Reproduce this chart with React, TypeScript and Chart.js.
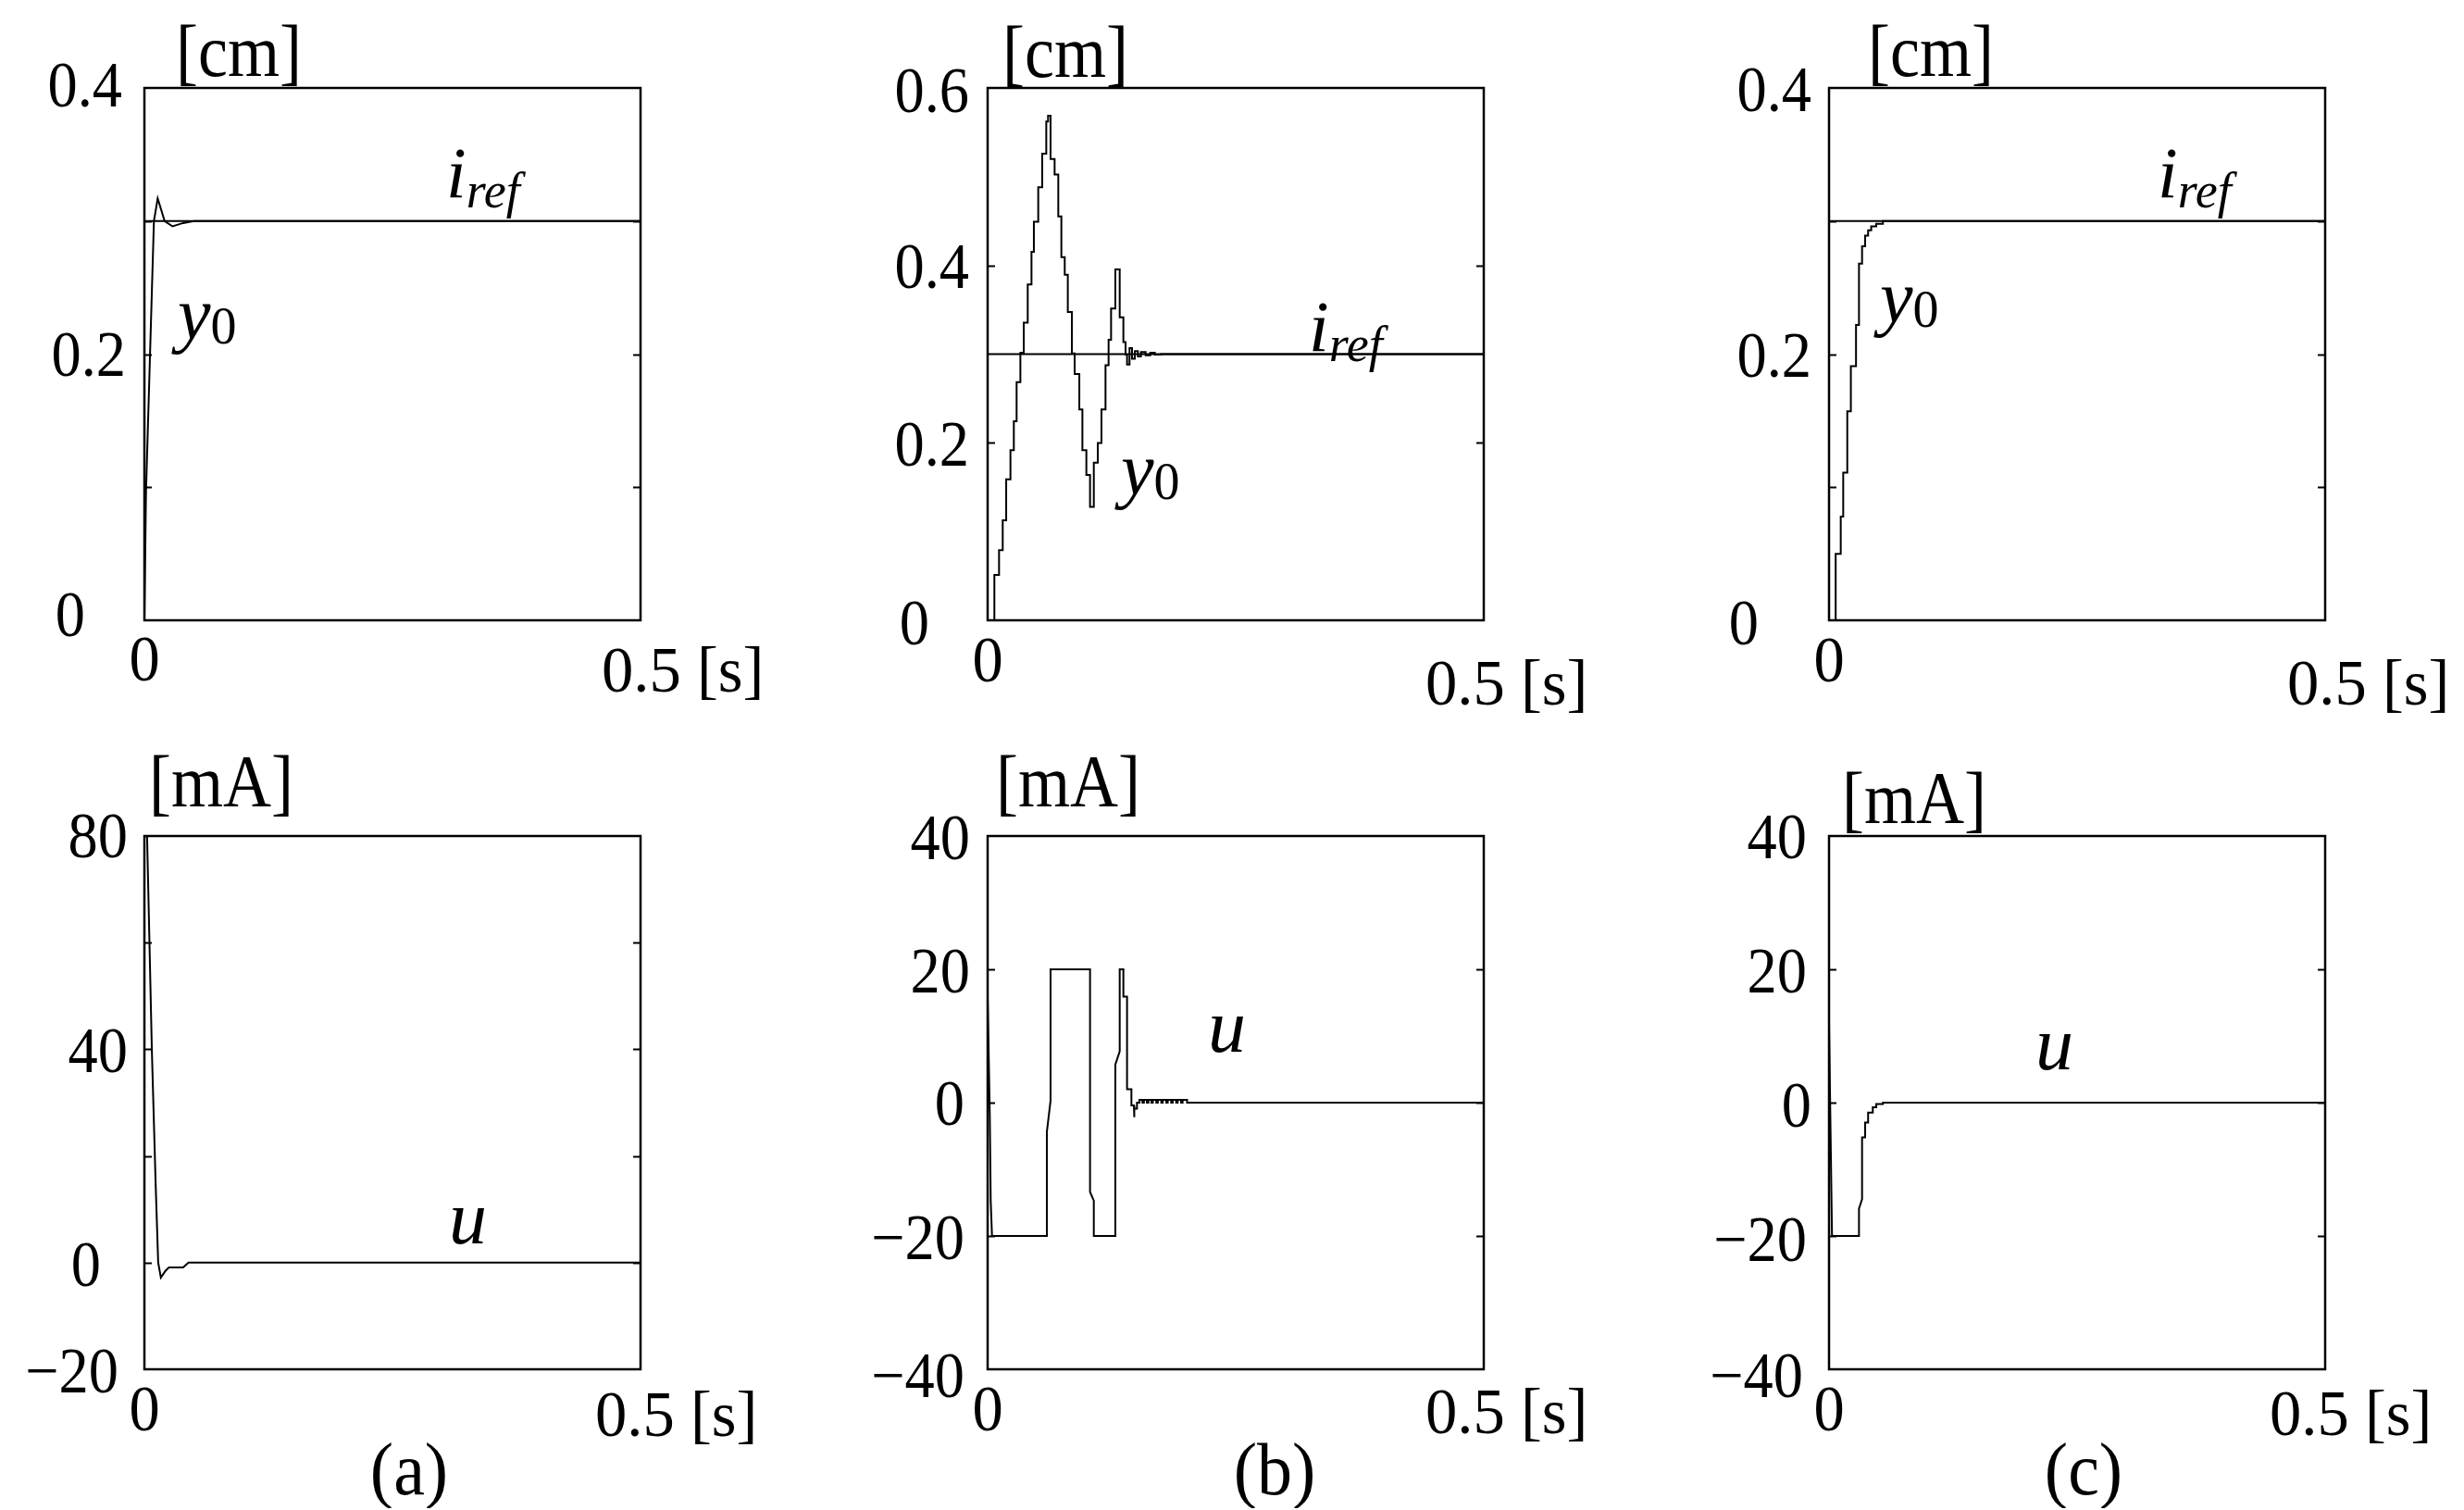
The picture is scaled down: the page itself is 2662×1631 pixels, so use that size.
import React, { useEffect, useRef } from 'react';
import { Chart, registerables } from 'chart.js';

Chart.register(...registerables);

// ---------------- data ----------------
const TIME_MIN = 0;
const TIME_MAX = 0.5;
const X_TICK_VALUES = [0, 0.5];
const X_TICK_LABELS = ['0', '0.5 [s]'];

// reference position i_ref [cm]
const IREF_T = [0, 0.5];
const IREF_CM = [0.3, 0.3];

// (a) position y0 [cm]
const A_Y0_T = [0, 0.0016, 0.0096, 0.0134, 0.0204, 0.0284, 0.039, 0.05, 0.5];
const A_Y0_CM = [0, 0.096, 0.3, 0.317, 0.3, 0.296, 0.2985, 0.3, 0.3];

// (a) control current u [mA]
const A_U_T = [0, 0.0027, 0.0075, 0.0113, 0.0139, 0.0166, 0.0214, 0.0247, 0.039, 0.0445, 0.5];
const A_U_MA = [80, 80, 40, 15, 0, -2.8, -1.5, -0.9, -0.9, 0, 0];

// (b) position y0 [cm] (sample-and-hold)
const B_Y0_T = [0, 0.0068, 0.0115, 0.0152, 0.0187, 0.023, 0.0264, 0.0292, 0.033, 0.0364, 0.0404, 0.0442, 0.0466, 0.051, 0.055, 0.0591, 0.0609, 0.0634, 0.0675, 0.0712, 0.0743, 0.0777, 0.0808, 0.0849, 0.0877, 0.0924, 0.0955, 0.0995, 0.1032, 0.107, 0.111, 0.1147, 0.1188, 0.1219, 0.1244, 0.1287, 0.1331, 0.1368, 0.139, 0.1405, 0.143, 0.1455, 0.1483, 0.1514, 0.1545, 0.1592, 0.1639, 0.1685, 0.1748, 0.5];
const B_Y0_CM = [0, 0.0511, 0.0791, 0.1126, 0.1589, 0.1917, 0.2244, 0.2684, 0.3015, 0.3355, 0.3786, 0.4153, 0.4493, 0.488, 0.526, 0.5623, 0.5687, 0.52, 0.5024, 0.4553, 0.4093, 0.3894, 0.3474, 0.3007, 0.2776, 0.2376, 0.1917, 0.1637, 0.1278, 0.1777, 0.1997, 0.2376, 0.2875, 0.3163, 0.3514, 0.3954, 0.3415, 0.3135, 0.2995, 0.2883, 0.3067, 0.2947, 0.3035, 0.2975, 0.3023, 0.2987, 0.3015, 0.2995, 0.3, 0.3];

// (b) control current u [mA]
const B_U_T = [0, 0.0022, 0.0031, 0.0044, 0.0597, 0.0597, 0.0634, 0.0634, 0.1032, 0.1032, 0.107, 0.107, 0.1287, 0.1287, 0.1331, 0.1331, 0.1368, 0.1368, 0.1405, 0.1405, 0.1449, 0.1449, 0.1474, 0.1474, 0.148, 0.148, 0.1505, 0.1505, 0.153, 0.153, 0.156, 0.156, 0.1575, 0.1575, 0.1605, 0.1605, 0.162, 0.162, 0.165, 0.165, 0.1665, 0.1665, 0.17, 0.17, 0.1715, 0.1715, 0.175, 0.175, 0.1765, 0.1765, 0.18, 0.18, 0.1815, 0.1815, 0.185, 0.185, 0.1865, 0.1865, 0.19, 0.19, 0.1915, 0.1915, 0.195, 0.195, 0.1965, 0.1965, 0.201, 0.201, 0.5];
const B_U_MA = [16, -2.2, -14.7, -20, -20, -4.4, 0.3, 20, 20, -13.4, -14.7, -20, -20, 5.7, 7.7, 20, 20, 15.9, 15.9, 2, 2, -0.4, -0.4, -2.2, -2.2, -0.9, -0.9, 0, 0, 0.4, 0.4, 0, 0, 0.4, 0.4, 0, 0, 0.4, 0.4, 0, 0, 0.4, 0.4, 0, 0, 0.4, 0.4, 0, 0, 0.4, 0.4, 0, 0, 0.4, 0.4, 0, 0, 0.4, 0.4, 0, 0, 0.4, 0.4, 0, 0, 0.4, 0.4, 0, 0];

// (c) position y0 [cm] (sample-and-hold)
const C_Y0_T = [0, 0.0067, 0.0118, 0.0143, 0.0184, 0.022, 0.0272, 0.0302, 0.0333, 0.0364, 0.0394, 0.0425, 0.0476, 0.0543, 0.5];
const C_Y0_CM = [0, 0.05, 0.078, 0.111, 0.157, 0.191, 0.222, 0.268, 0.281, 0.289, 0.293, 0.296, 0.298, 0.3, 0.3];

// (c) control current u [mA]
const C_U_T = [0, 0.003, 0.0302, 0.0302, 0.0333, 0.0333, 0.0364, 0.0364, 0.0394, 0.0394, 0.0441, 0.0441, 0.0476, 0.0476, 0.0543, 0.0543, 0.5];
const C_U_MA = [12, -20, -20, -15.9, -14.5, -5.2, -5.2, -3, -3, -1.5, -1.5, -0.7, -0.7, -0.2, -0.2, 0, 0];

// axis tick labels
const CM_04_TICKS = [0, 0.2, 0.4];
const CM_04_LABELS = ['0', '0.2', '0.4'];
const CM_04_MARKS = [0.1, 0.2, 0.3];
const CM_06_TICKS = [0, 0.2, 0.4, 0.6];
const CM_06_LABELS = ['0', '0.2', '0.4', '0.6'];
const CM_06_MARKS = [0.2, 0.4];
const MA_80_TICKS = [-20, 0, 40, 80];
const MA_80_LABELS = ['\u221220', '0', '40', '80'];
const MA_80_MARKS = [0, 20, 40, 60];
const MA_40_TICKS = [-40, -20, 0, 20, 40];
const MA_40_LABELS = ['\u221240', '\u221220', '0', '20', '40'];
const MA_40_MARKS = [-20, 0, 20];

// ---------------- layout / style ----------------
const SERIF = '"Liberation Serif", "Times New Roman", "DejaVu Serif", serif';
const PAD_L = 156;
const PAD_R = 190;
const PAD_T = 95;
const PAD_B = 150;
const BOX_W = 536;

type Series = { t: number[]; v: number[]; stepped: boolean };
type Annot =
  | { kind: 'iref'; dx: number; base: number }
  | { kind: 'y0'; dx: number; base: number }
  | { kind: 'u'; dx: number; base: number };

type Panel = {
  key: string;
  left: number;
  top: number;
  boxH: number;
  yMin: number;
  yMax: number;
  ticks: number[];
  labels: string[];
  gaps: number[];
  dys: number[];
  marks: number[];
  series: Series[];
  unit: string;
  unitDx: number;
  unitBase: number;
  x0Base: number;
  xEndDx: number;
  xEndBase: number;
  annots: Annot[];
  letter?: string;
  letterDx?: number;
  letterBase?: number;
};

const PANELS: Panel[] = [
  {
    key: 'aTop', left: 0, top: 0, boxH: 575, yMin: 0, yMax: 0.4,
    ticks: CM_04_TICKS, labels: CM_04_LABELS, gaps: [64, 20, 24], dys: [-1, 5, 2], marks: CM_04_MARKS,
    series: [{ t: IREF_T, v: IREF_CM, stepped: false }, { t: A_Y0_T, v: A_Y0_CM, stepped: false }],
    unit: '[cm]', unitDx: 34, unitBase: -13, x0Base: 65, xEndDx: -42, xEndBase: 77,
    annots: [{ kind: 'iref', dx: 326, base: 118 }, { kind: 'y0', dx: 36, base: 271 }],
  },
  {
    key: 'bTop', left: 1067 - PAD_L, top: 0, boxH: 575, yMin: 0, yMax: 0.6,
    ticks: CM_06_TICKS, labels: CM_06_LABELS, gaps: [63, 20, 20, 20], dys: [8, 6, 6, 8], marks: CM_06_MARKS,
    series: [{ t: IREF_T, v: IREF_CM, stepped: false }, { t: B_Y0_T, v: B_Y0_CM, stepped: true }],
    unit: '[cm]', unitDx: 16, unitBase: -12, x0Base: 66, xEndDx: -63, xEndBase: 91,
    annots: [{ kind: 'iref', dx: 347, base: 284 }, { kind: 'y0', dx: 144, base: 439 }],
  },
  {
    key: 'cTop', left: 1976 - PAD_L, top: 0, boxH: 575, yMin: 0, yMax: 0.4,
    ticks: CM_04_TICKS, labels: CM_04_LABELS, gaps: [76, 19, 19], dys: [8, 6, 7], marks: CM_04_MARKS,
    series: [{ t: IREF_T, v: IREF_CM, stepped: false }, { t: C_Y0_T, v: C_Y0_CM, stepped: true }],
    unit: '[cm]', unitDx: 42, unitBase: -13, x0Base: 66, xEndDx: -41, xEndBase: 91,
    annots: [{ kind: 'iref', dx: 355, base: 118 }, { kind: 'y0', dx: 55, base: 253 }],
  },
  {
    key: 'aBot', left: 0, top: 903 - PAD_T, boxH: 576, yMin: -20, yMax: 80,
    ticks: MA_80_TICKS, labels: MA_80_LABELS, gaps: [28, 47, 18, 18], dys: [7, 7, 6, 5], marks: MA_80_MARKS,
    series: [{ t: A_U_T, v: A_U_MA, stepped: false }],
    unit: '[mA]', unitDx: 5, unitBase: -32, x0Base: 66, xEndDx: -49, xEndBase: 72,
    annots: [{ kind: 'u', dx: 329, base: 440 }],
    letter: '(a)', letterDx: 286, letterBase: 135,
  },
  {
    key: 'bBot', left: 1067 - PAD_L, top: 903 - PAD_T, boxH: 576, yMin: -40, yMax: 40,
    ticks: MA_40_TICKS, labels: MA_40_LABELS, gaps: [25, 25, 25, 19, 19], dys: [12, 7, 6, 7, 7], marks: MA_40_MARKS,
    series: [{ t: B_U_T, v: B_U_MA, stepped: false }],
    unit: '[mA]', unitDx: 9, unitBase: -32, x0Base: 66, xEndDx: -63, xEndBase: 69,
    annots: [{ kind: 'u', dx: 238, base: 233 }],
    letter: '(b)', letterDx: 310, letterBase: 135,
  },
  {
    key: 'cBot', left: 1976 - PAD_L, top: 903 - PAD_T, boxH: 576, yMin: -40, yMax: 40,
    ticks: MA_40_TICKS, labels: MA_40_LABELS, gaps: [28, 24, 19, 24, 24], dys: [12, 9, 8, 7, 6], marks: MA_40_MARKS,
    series: [{ t: C_U_T, v: C_U_MA, stepped: false }],
    unit: '[mA]', unitDx: 14, unitBase: -14, x0Base: 66, xEndDx: -60, xEndBase: 71,
    annots: [{ kind: 'u', dx: 223, base: 252 }],
    letter: '(c)', letterDx: 275, letterBase: 135,
  },
];

// draw text with an optional horizontal squeeze
function drawText(
  ctx: CanvasRenderingContext2D,
  text: string,
  x: number,
  y: number,
  font: string,
  align: CanvasTextAlign,
  baseline: CanvasTextBaseline,
  sx = 1,
) {
  ctx.save();
  ctx.font = font;
  ctx.textAlign = align;
  ctx.textBaseline = baseline;
  ctx.translate(x, y);
  ctx.scale(sx, 1);
  ctx.fillText(text, 0, 0);
  const w = ctx.measureText(text).width * sx;
  ctx.restore();
  return w;
}

function makeFramePlugin(p: Panel) {
  return {
    id: 'frame_' + p.key,
    afterDatasetsDraw(chart: any) {
      const ctx: CanvasRenderingContext2D = chart.ctx;
      const { left, top, right, bottom } = chart.chartArea;
      const xs = chart.scales.x;
      const ys = chart.scales.y;
      ctx.save();
      ctx.strokeStyle = '#000';
      ctx.fillStyle = '#000';
      // box
      ctx.lineWidth = 2.5;
      ctx.strokeRect(left, top, right - left, bottom - top);
      // inward tick marks on both sides
      ctx.lineWidth = 2;
      ctx.beginPath();
      for (const m of p.marks) {
        const py = Math.round(ys.getPixelForValue(m)) + 0.5;
        ctx.moveTo(left, py);
        ctx.lineTo(left + 8, py);
        ctx.moveTo(right - 8, py);
        ctx.lineTo(right, py);
      }
      ctx.stroke();
      // y tick labels
      p.ticks.forEach((v, i) => {
        drawText(ctx, p.labels[i], left - p.gaps[i], ys.getPixelForValue(v) + p.dys[i], `70px ${SERIF}`, 'right', 'middle', 0.92);
      });
      // x tick labels
      drawText(ctx, X_TICK_LABELS[0], xs.getPixelForValue(X_TICK_VALUES[0]), bottom + p.x0Base, `70px ${SERIF}`, 'center', 'alphabetic', 0.95);
      drawText(ctx, X_TICK_LABELS[1], xs.getPixelForValue(X_TICK_VALUES[1]) + p.xEndDx, bottom + p.xEndBase, `70px ${SERIF}`, 'left', 'alphabetic', 0.98);
      // unit label
      drawText(ctx, p.unit, left + p.unitDx, top + p.unitBase, `80px ${SERIF}`, 'left', 'alphabetic', 0.9);
      // annotations
      for (const a of p.annots) {
        const ax = left + a.dx;
        const ab = top + a.base;
        if (a.kind === 'iref') {
          const w = drawText(ctx, 'i', ax, ab, `italic 78px ${SERIF}`, 'left', 'alphabetic');
          drawText(ctx, 'ref', ax + w, ab + 11, `italic 54px ${SERIF}`, 'left', 'alphabetic');
        } else if (a.kind === 'y0') {
          const w = drawText(ctx, 'y', ax, ab, `italic 80px ${SERIF}`, 'left', 'alphabetic');
          drawText(ctx, '0', ax + w, ab + 5, `56px ${SERIF}`, 'left', 'alphabetic');
        } else {
          drawText(ctx, 'u', ax, ab, `italic 82px ${SERIF}`, 'left', 'alphabetic');
        }
      }
      // panel letter
      if (p.letter) {
        drawText(ctx, p.letter, left + (p.letterDx || 0), bottom + (p.letterBase || 0), `80px ${SERIF}`, 'center', 'alphabetic', 0.95);
      }
      ctx.restore();
    },
  };
}

function PanelChart({ p }: { p: Panel }) {
  const ref = useRef<HTMLCanvasElement | null>(null);
  const width = PAD_L + BOX_W + PAD_R;
  const height = PAD_T + p.boxH + PAD_B;
  useEffect(() => {
    if (!ref.current) return;
    const chart = new Chart(ref.current, {
      type: 'line',
      data: {
        datasets: p.series.map((s) => ({
          data: s.t.map((t, i) => ({ x: t, y: s.v[i] })),
          borderColor: '#000',
          borderWidth: 2,
          pointRadius: 0,
          tension: 0,
          fill: false,
          stepped: s.stepped,
        })),
      },
      options: {
        animation: false,
        responsive: false,
        maintainAspectRatio: false,
        devicePixelRatio: 1,
        layout: { padding: { left: PAD_L, right: PAD_R, top: PAD_T, bottom: PAD_B } },
        scales: {
          x: { type: 'linear', min: TIME_MIN, max: TIME_MAX, display: false },
          y: { type: 'linear', min: p.yMin, max: p.yMax, display: false },
        },
        plugins: { legend: { display: false }, tooltip: { enabled: false } },
        events: [],
      },
      plugins: [makeFramePlugin(p)],
    } as any);
    return () => chart.destroy();
  }, [p]);
  return (
    <canvas
      ref={ref}
      width={width}
      height={height}
      style={{ position: 'absolute', left: p.left, top: p.top, width, height }}
    />
  );
}

export default function App() {
  return (
    <div
      style={{
        position: 'absolute',
        left: 0,
        top: 0,
        width: 2662,
        height: 1631,
        overflow: 'hidden',
        background: '#fff',
      }}
    >
      {PANELS.map((p) => (
        <PanelChart key={p.key} p={p} />
      ))}
    </div>
  );
}
